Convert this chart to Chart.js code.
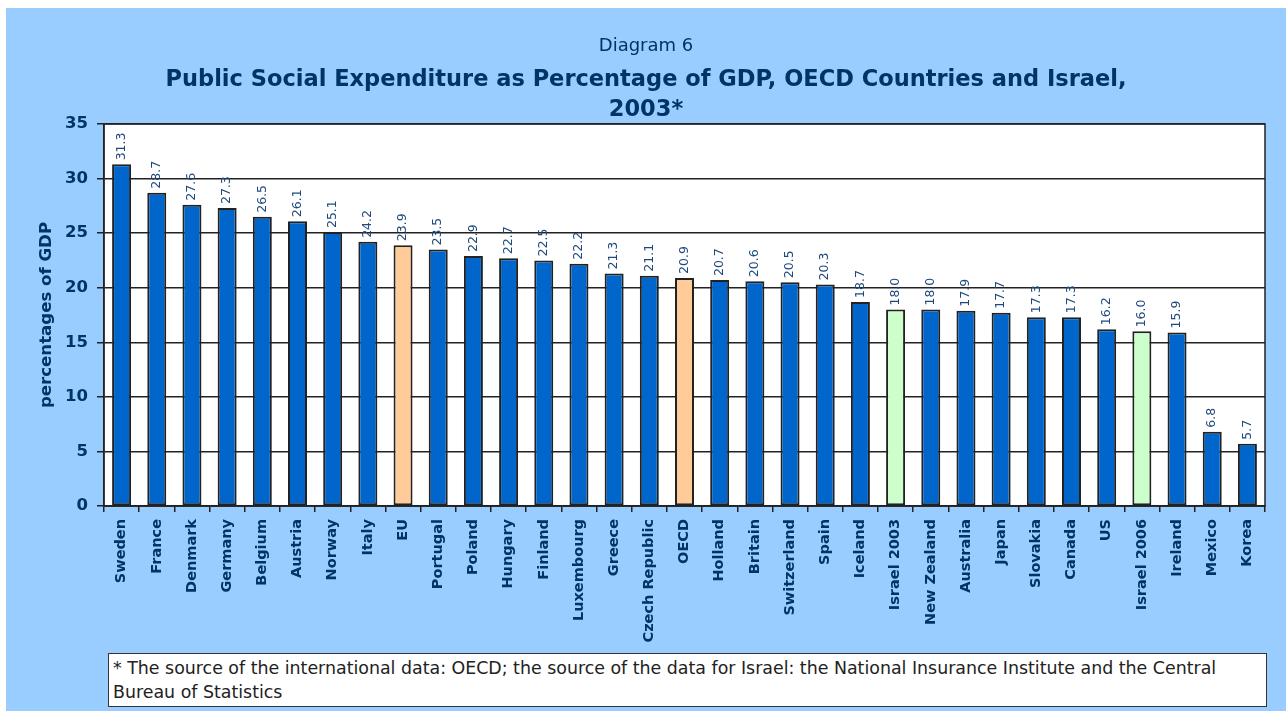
<!DOCTYPE html>
<html>
<head>
<meta charset="utf-8">
<script src="https://cdn.jsdelivr.net/npm/chart.js@4.4.1/dist/chart.umd.min.js"></script>
<style>
  html, body { margin: 0; padding: 0; background: #ffffff; }
  #frame { position: absolute; left: 6px; top: 8px; width: 1280px; height: 703px; background: #99CCFF; }
  #chartBox { position: absolute; left: 0; top: 0; width: 1280px; height: 703px; }
  #note {
    position: absolute; left: 102px; top: 645px; width: 1159px; height: 54px;
    background: #ffffff; border: 1px solid #333333; box-sizing: border-box;
    font-family: "DejaVu Sans", sans-serif; font-size: 17.4px;
    line-height: 24px; color: #222222; padding: 2px 0 0 4px; white-space: nowrap;
  }
</style>
</head>
<body>
<div id="frame">
  <div id="chartBox"><canvas id="c"></canvas></div>
  <div id="note">* The source of the international data: OECD; the source of the data for Israel: the National Insurance Institute and the Central<br>Bureau of Statistics</div>
</div>
<script>
// Public social expenditure, % of GDP
const countries = ["Sweden", "France", "Denmark", "Germany", "Belgium", "Austria", "Norway", "Italy", "EU",
  "Portugal", "Poland", "Hungary", "Finland", "Luxembourg", "Greece", "Czech Republic", "OECD", "Holland",
  "Britain", "Switzerland", "Spain", "Iceland", "Israel 2003", "New Zealand", "Australia", "Japan",
  "Slovakia", "Canada", "US", "Israel 2006", "Ireland", "Mexico", "Korea"];
const expenditure = [31.3, 28.7, 27.6, 27.3, 26.5, 26.1, 25.1, 24.2, 23.9,
  23.5, 22.9, 22.7, 22.5, 22.2, 21.3, 21.1, 20.9, 20.7,
  20.6, 20.5, 20.3, 18.7, 18.0, 18.0, 17.9, 17.7,
  17.3, 17.3, 16.2, 16.0, 15.9, 6.8, 5.7];
const yTicks = [0, 5, 10, 15, 20, 25, 30, 35];

const NAVY = "#003366";
const LINE = "#222222";
const FONT = "'DejaVu Sans', Verdana, sans-serif";

function barColor(name) {
  if (name === "EU" || name === "OECD") return "#FFCC99";
  if (name.startsWith("Israel")) return "#CCFFCC";
  return "#0066CC";
}

// white plot background (under the grid) and frame around the plot area
const plotFrame = {
  id: "plotFrame",
  beforeDraw(chart) {
    const { ctx, chartArea: a } = chart;
    ctx.save();
    ctx.fillStyle = "#ffffff";
    ctx.fillRect(a.left, a.top, a.right - a.left, a.bottom - a.top);
    ctx.restore();
  },
  afterDatasetsDraw(chart) {
    const { ctx, chartArea: a } = chart;
    ctx.save();
    ctx.strokeStyle = LINE;
    ctx.lineWidth = 1.5;
    ctx.strokeRect(a.left, a.top, a.right - a.left, a.bottom - a.top);
    ctx.restore();
  }
};

// vertical value labels above each bar
const valueLabels = {
  id: "valueLabels",
  afterDatasetsDraw(chart) {
    const { ctx } = chart;
    const meta = chart.getDatasetMeta(0);
    ctx.save();
    ctx.fillStyle = "#1F497D";
    ctx.font = "12.5px " + FONT;
    ctx.textAlign = "left";
    ctx.textBaseline = "middle";
    meta.data.forEach((bar, i) => {
      ctx.save();
      ctx.translate(bar.x, bar.y - 4);
      ctx.rotate(-Math.PI / 2);
      ctx.fillText(expenditure[i].toFixed(1), 0, 0);
      ctx.restore();
    });
    ctx.restore();
  }
};

const chart = new Chart(document.getElementById("c"), {
  type: "bar",
  data: {
    labels: countries,
    datasets: [{
      data: expenditure,
      backgroundColor: countries.map(barColor),
      borderColor: LINE,
      borderWidth: 2,
      borderSkipped: false,
      categoryPercentage: 1.0,
      barPercentage: 0.54
    }]
  },
  options: {
    responsive: true,
    maintainAspectRatio: false,
    animation: false,
    layout: { padding: { left: 21, right: 21, top: 0, bottom: 55 } },
    plugins: {
      legend: { display: false },
      tooltip: { enabled: false },
      title: {
        display: true,
        text: "Diagram 6",
        color: NAVY,
        font: { family: FONT, size: 18, weight: "normal", lineHeight: 1.2 },
        padding: { top: 28, bottom: 7.4 }
      },
      subtitle: {
        display: true,
        text: ["Public Social Expenditure as Percentage of GDP, OECD Countries and Israel,", "2003*"],
        color: NAVY,
        font: { family: FONT, size: 22.5, weight: "bold", lineHeight: 1.333 },
        padding: { top: 0, bottom: -1 }
      }
    },
    scales: {
      x: {
        offset: true,
        afterFit(scale) { scale.height = 150; },
        grid: { offset: true, drawOnChartArea: false, drawTicks: true, tickLength: 6, color: LINE, lineWidth: 1.5 },
        border: { display: true, color: LINE, width: 1.5 },
        ticks: {
          autoSkip: false, maxRotation: 90, minRotation: 90, padding: 7,
          color: NAVY, font: { family: FONT, size: 14.5, weight: "bold" }
        }
      },
      y: {
        min: 0, max: 35,
        afterFit(scale) { scale.width = 77; },
        afterBuildTicks(scale) { scale.ticks = yTicks.map(v => ({ value: v })); },
        grid: { color: LINE, lineWidth: 1.5, tickLength: 7, drawTicks: true },
        border: { display: true, color: LINE, width: 1.5 },
        ticks: { padding: 9, color: NAVY, font: { family: FONT, size: 16.5, weight: "bold" } },
        title: {
          display: true, text: "percentages of GDP", color: NAVY,
          font: { family: FONT, size: 16.6, weight: "bold" },
          padding: { top: 10, bottom: 0 }
        }
      }
    }
  },
  plugins: [plotFrame, valueLabels]
});
</script>
</body>
</html>
